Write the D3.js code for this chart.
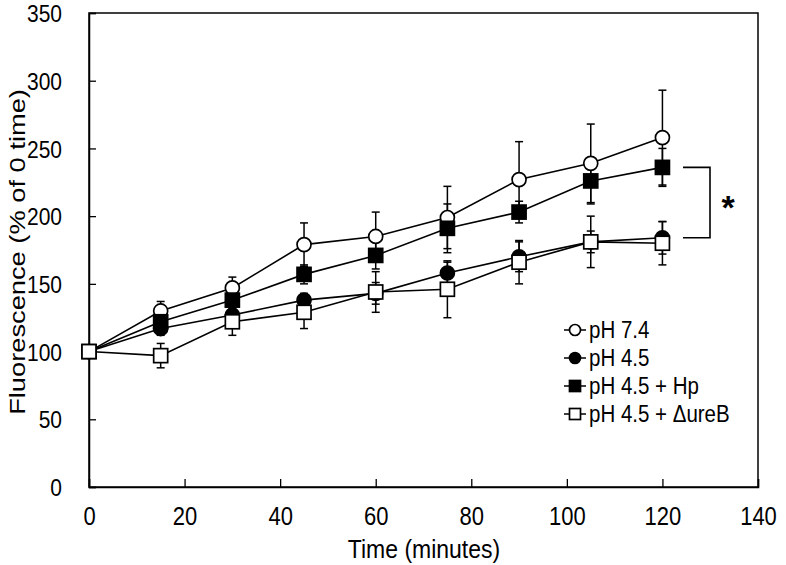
<!DOCTYPE html>
<html>
<head>
<meta charset="utf-8">
<script src="https://cdn.jsdelivr.net/npm/d3@7"></script>
<style>
  body { margin: 0; background: #fff; }
  svg { display: block; font-family: "Liberation Sans", Arial, sans-serif; }
</style>
</head>
<body>
<svg id="chart" width="786" height="565"></svg>
<script>
// ---- data ----
const times = [0, 15, 30, 45, 60, 75, 90, 105, 120];
const ph74    = [100, 130, 147, 179, 185, 199, 227, 239, 258];
const ph74Err = [0, 7, 8, 16, 18, 23, 28, 29, 35];
const ph45    = [100, 117, 127, 138, 143, 158, 170, 181, 184];
const ph45Err = [0, 5, 6, 5, 8, 8, 11, 8, 12];
const hp      = [100, 122, 138, 157, 171, 191, 203, 226, 236];
const hpErr   = [0, 6, 8, 7, 10, 18, 8, 17, 14];
const ureB    = [100, 97, 122, 129, 144, 146, 166, 181, 180];
const ureBErr = [0, 9, 10, 12, 15, 21, 16, 19, 16];
const seriesNames = ["pH 7.4", "pH 4.5", "pH 4.5 + Hp", "pH 4.5 + \u0394ureB"];
const xTicks = [0, 20, 40, 60, 80, 100, 120, 140];
const yTicks = [0, 50, 100, 150, 200, 250, 300, 350];
const xLabel = "Time (minutes)";
const yLabel = "Fluorescence (% of 0 time)";

const series = [
  { name: seriesNames[0], vals: ph74, err: ph74Err, shape: "circle", fill: "#fff" },
  { name: seriesNames[1], vals: ph45, err: ph45Err, shape: "circle", fill: "#000" },
  { name: seriesNames[2], vals: hp,   err: hpErr,   shape: "square", fill: "#000" },
  { name: seriesNames[3], vals: ureB, err: ureBErr, shape: "square", fill: "#fff" }
];

// ---- layout ----
const K = 1.15; // vertical stretch of glyphs in the reference
const svg = d3.select("#chart");
const x = d3.scaleLinear().domain([0, 140]).range([89, 758]);
const y = d3.scaleLinear().domain([0, 350]).range([487, 13]);

// frame
svg.append("rect")
  .attr("x", x(0)).attr("y", y(350))
  .attr("width", x(140) - x(0)).attr("height", y(0) - y(350))
  .attr("fill", "none").attr("stroke", "#000").attr("stroke-width", 1.5);

// axes (inward ticks)
const xAxis = svg.append("g").attr("transform", `translate(0,${y(0)})`)
  .call(d3.axisBottom(x).tickValues(xTicks).tickSize(-8).tickFormat(d3.format("d")));
const yAxis = svg.append("g").attr("transform", `translate(${x(0)},0)`)
  .call(d3.axisLeft(y).tickValues(yTicks).tickSize(-7).tickFormat(d3.format("d")));
[xAxis, yAxis].forEach(g => {
  g.select(".domain").attr("stroke", "#000").attr("stroke-width", 1.5);
  g.selectAll(".tick line").attr("stroke", "#000").attr("stroke-width", 1.3);
  g.selectAll(".tick text").attr("fill", "#000").style("font-size", "21px")
    .style("font-family", "'Liberation Sans', Arial, sans-serif");
});
xAxis.selectAll(".tick text").attr("y", null).attr("dy", null).style("font-size", "22px")
  .attr("transform", `translate(0,38) scale(1,${K})`);
yAxis.selectAll(".tick text").attr("x", null).attr("dy", "0.36em")
  .attr("transform", `translate(-27,0) scale(1,${K})`);

// axis titles
svg.append("text").attr("transform", `translate(424,558) scale(1,${K})`)
  .attr("text-anchor", "middle").style("font-size", "23px").text(xLabel);
svg.append("text").attr("transform", `translate(25,252) rotate(-90) scale(1.24,1)`)
  .attr("text-anchor", "middle").style("font-size", "22px").text(yLabel);

const line = d3.line().x((d, i) => x(times[i])).y(d => y(d));

// lines
series.forEach(s => {
  svg.append("path").datum(s.vals).attr("d", line)
    .attr("fill", "none").attr("stroke", "#000").attr("stroke-width", 1.6);
});

// error bars
const cap = 4;
series.forEach(s => {
  const g = svg.append("g").attr("stroke", "#000").attr("stroke-width", 1.5);
  s.vals.forEach((v, i) => {
    if (!s.err[i]) return;
    const cx = x(times[i]);
    g.append("line").attr("x1", cx).attr("x2", cx).attr("y1", y(v - s.err[i])).attr("y2", y(v + s.err[i]));
    [v - s.err[i], v + s.err[i]].forEach(e => {
      g.append("line").attr("x1", cx - cap).attr("x2", cx + cap).attr("y1", y(e)).attr("y2", y(e));
    });
  });
});

function marker(g, shape, fill, cx, cy, r) {
  if (shape === "circle") {
    g.append("circle").attr("cx", cx).attr("cy", cy).attr("r", r)
      .attr("fill", fill).attr("stroke", "#000").attr("stroke-width", 1.7);
  } else {
    g.append("rect").attr("x", cx - r).attr("y", cy - r).attr("width", 2 * r).attr("height", 2 * r)
      .attr("fill", fill).attr("stroke", "#000").attr("stroke-width", 1.7);
  }
}

// markers
series.forEach(s => {
  const g = svg.append("g");
  s.vals.forEach((v, i) => marker(g, s.shape, s.fill, x(times[i]), y(v), 7));
});

// significance bracket
const bx = 710, bx0 = 683;
const byTop = y(236), byBot = y(184);
svg.append("path")
  .attr("d", `M${bx0},${byTop}H${bx}V${byBot}H${bx0}`)
  .attr("fill", "none").attr("stroke", "#000").attr("stroke-width", 1.6);
svg.append("text").attr("x", 728).attr("y", (byTop + byBot) / 2 + 16)
  .attr("text-anchor", "middle").style("font-size", "34px").style("font-weight", "bold").text("*");

// legend
const lg = svg.append("g");
const legY = [330, 358, 386, 414];
series.forEach((s, i) => {
  const ly = legY[i];
  lg.append("line").attr("x1", 564).attr("x2", 586).attr("y1", ly).attr("y2", ly)
    .attr("stroke", "#000").attr("stroke-width", 1.5);
  marker(lg, s.shape, s.fill, 575, ly, 5.5);
  lg.append("text").attr("transform", `translate(589,${ly}) scale(1,${K})`)
    .attr("dy", "0.36em").style("font-size", "20.5px").text(s.name);
});
</script>
</body>
</html>
